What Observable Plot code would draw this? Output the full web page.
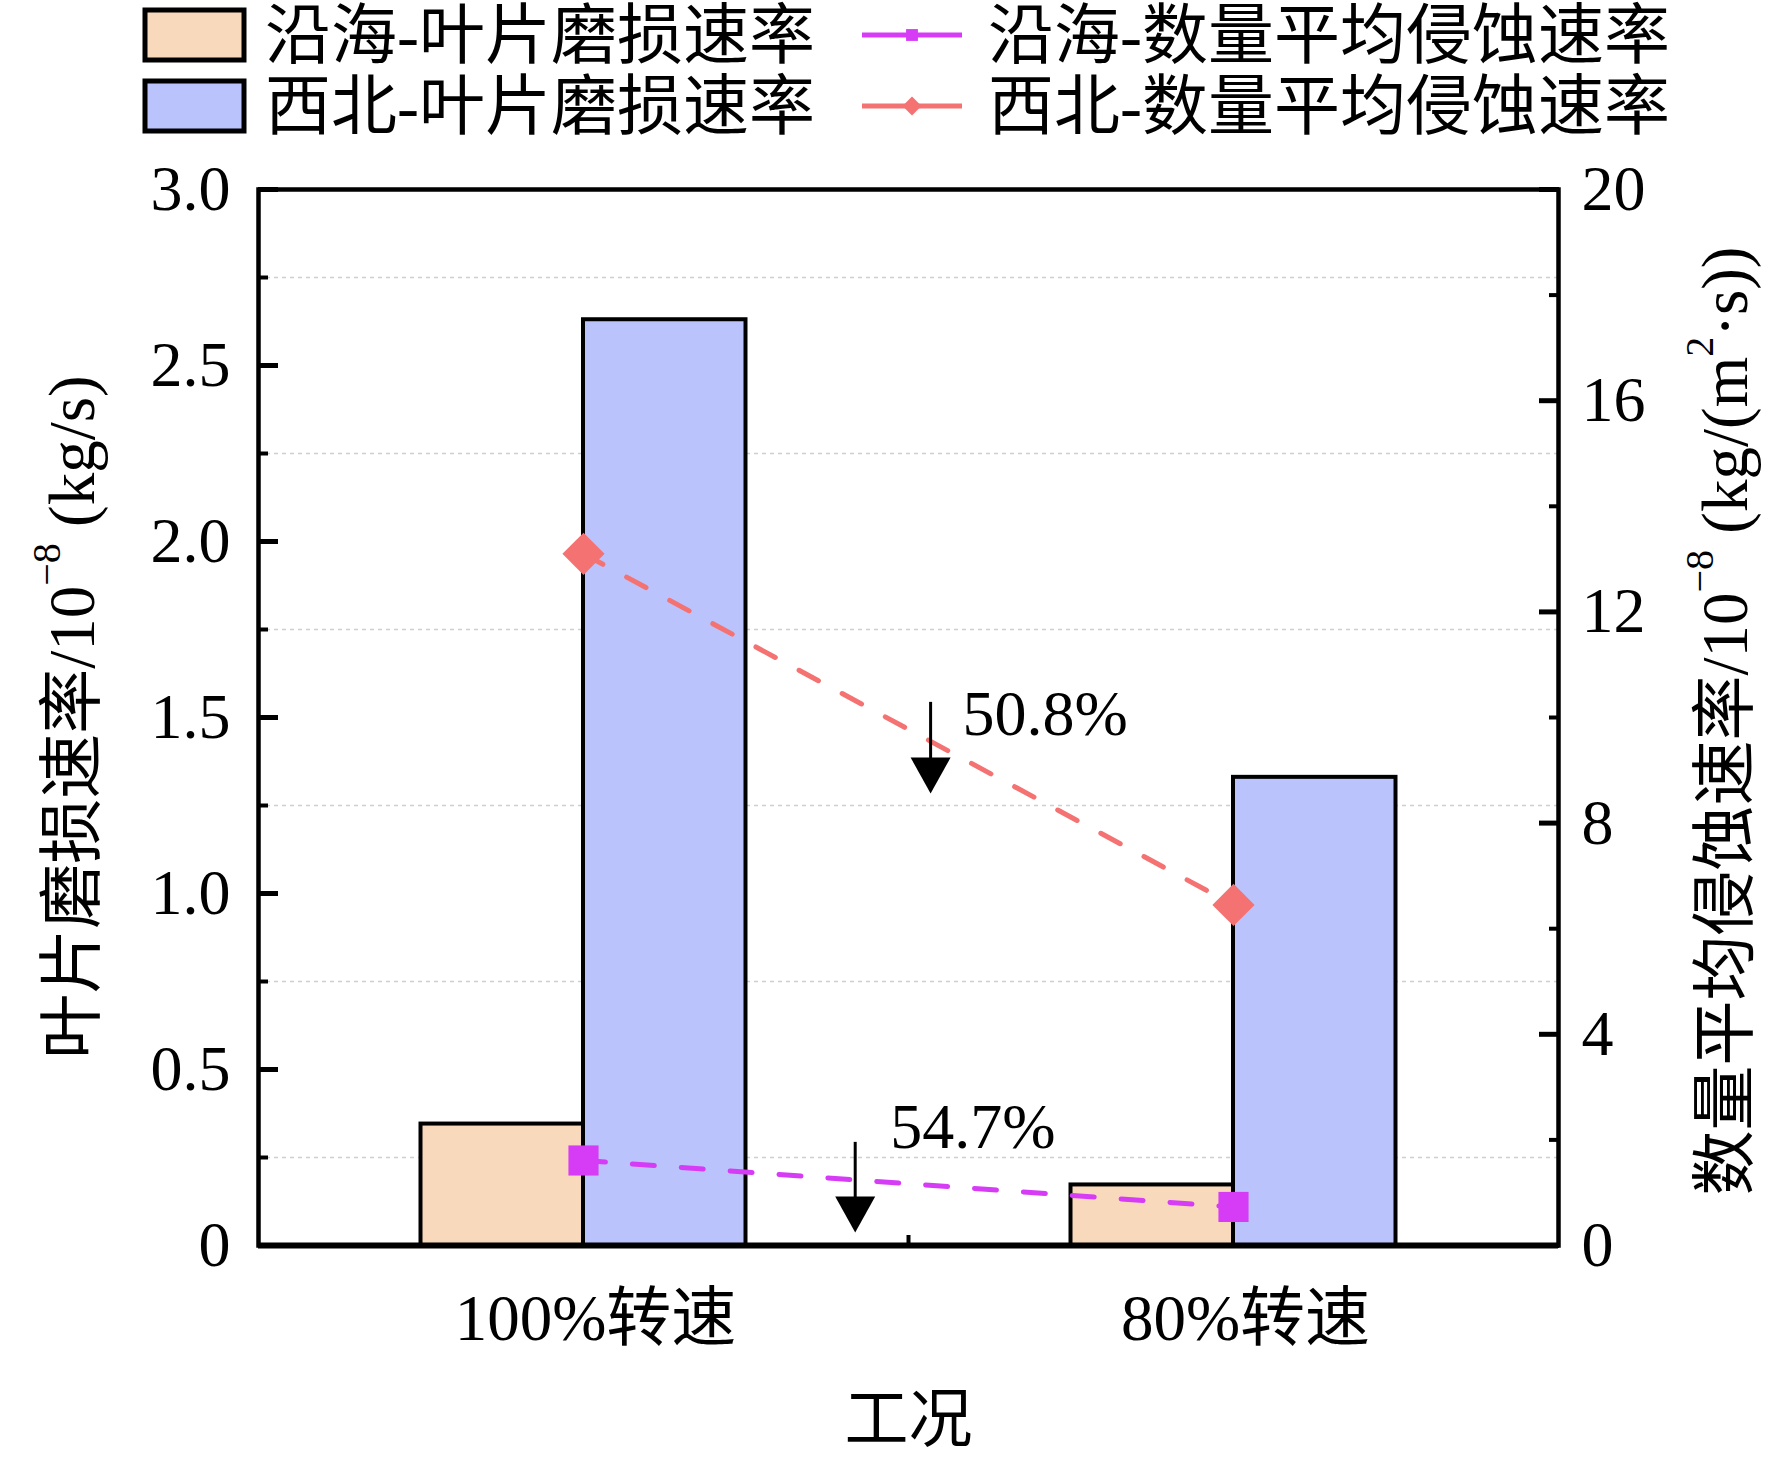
<!DOCTYPE html>
<html><head><meta charset="utf-8">
<script src="https://cdn.jsdelivr.net/npm/d3@7"></script>
<script src="https://cdn.jsdelivr.net/npm/@observablehq/plot@0.6"></script>
<style>
body{margin:0;background:#fff;}
</style></head><body><div id="chart"></div>
<script>
// ---- data ----
const categories = ["100%转速", "80%转速"];
const wearCoastal = [0.345, 0.172];      // 沿海-叶片磨损速率 (left axis)
const wearNorthwest = [2.63, 1.33];      // 西北-叶片磨损速率 (left axis)
const erosionCoastal = [1.61, 0.73];     // 沿海-数量平均侵蚀速率 (right axis)
const erosionNorthwest = [13.1, 6.45];   // 西北-数量平均侵蚀速率 (right axis)
const leftMajorTicks = [0, 0.5, 1.0, 1.5, 2.0, 2.5, 3.0];
const leftMinorTicks = [0.25, 0.75, 1.25, 1.75, 2.25, 2.75];
const rightMajorTicks = [0, 4, 8, 12, 16, 20];
const rightMinorTicks = [2, 6, 10, 14, 18];
const legendLabels = ["沿海-叶片磨损速率", "西北-叶片磨损速率", "沿海-数量平均侵蚀速率", "西北-数量平均侵蚀速率"];
// annotation anchors: x in category index units, y in left-axis units
const arrowX = [0.534, 0.418];
const arrowTop = [1.543, 0.293];
const arrowTip = [1.284, 0.037];
const noteX = [0.583, 0.472];
const noteY = [1.509, 0.335];

// ---- styles ----
const cCoastalBar = "#F9D9BB";
const cNorthwestBar = "#BAC3FB";
const cCoastalLine = "#D63CF5";
const cNorthwestLine = "#F57272";
const FONT = "'Liberation Serif','Noto Sans CJK SC',serif";

const leftMax = 3, rightMax = 20;
const toLeft = v => v * leftMax / rightMax;

const coastalBars = categories.map((c, i) => ({i, x1: i - 0.25, x2: i, v: wearCoastal[i]}));
const northwestBars = categories.map((c, i) => ({i, x1: i, x2: i + 0.25, v: wearNorthwest[i]}));
const coastalPts = categories.map((c, i) => ({i, y: toLeft(erosionCoastal[i])}));
const northwestPts = categories.map((c, i) => ({i, y: toLeft(erosionNorthwest[i])}));
const pct = (a, b) => ((1 - b / a) * 100).toFixed(1) + "%";
const notes = [
  {x: noteX[0], y: noteY[0], t: pct(erosionNorthwest[0], erosionNorthwest[1])},
  {x: noteX[1], y: noteY[1], t: pct(erosionCoastal[0], erosionCoastal[1])}
];
const arrows = arrowX.map((x, k) => ({x, top: arrowTop[k], tip: arrowTip[k]}));

const downTriangle = {
  draw(ctx, size) {
    const r = Math.sqrt(size / Math.PI);
    ctx.moveTo(-r, -1.8 * r);
    ctx.lineTo(r, -1.8 * r);
    ctx.lineTo(0, 0);
    ctx.closePath();
  }
};

const chart = Plot.plot({
  width: 1772,
  height: 1463,
  marginLeft: 258,
  marginRight: 214,
  marginTop: 189,
  marginBottom: 218,
  style: {fontFamily: FONT, fontSize: "64px", color: "black", background: "white"},
  x: {type: "linear", domain: [-0.5, 1.5], axis: null},
  y: {domain: [0, leftMax], axis: null},
  marks: [
    Plot.ruleY(leftMinorTicks, {stroke: "#cfcfcf", strokeWidth: 1.5, strokeDasharray: "4,4"}),
    Plot.rectY(coastalBars, {x1: "x1", x2: "x2", y1: 0, y2: "v", fill: cCoastalBar, stroke: "black", strokeWidth: 4}),
    Plot.rectY(northwestBars, {x1: "x1", x2: "x2", y1: 0, y2: "v", fill: cNorthwestBar, stroke: "black", strokeWidth: 4}),
    Plot.frame({stroke: "black", strokeWidth: 4.5}),
    Plot.ruleY([0], {stroke: "black", strokeWidth: 6}),
    Plot.line(northwestPts, {x: "i", y: "y", stroke: cNorthwestLine, strokeWidth: 5, strokeDasharray: "22,27"}),
    Plot.line(coastalPts, {x: "i", y: "y", stroke: cCoastalLine, strokeWidth: 5, strokeDasharray: "22,27"}),
    Plot.dot(northwestPts, {x: "i", y: "y", symbol: "diamond2", r: 19, fill: cNorthwestLine, stroke: "none"}),
    Plot.dot(coastalPts, {x: "i", y: "y", symbol: "square", r: 17, fill: cCoastalLine, stroke: "none"}),
    Plot.ruleX(arrows, {x: "x", y1: "top", y2: "tip", stroke: "black", strokeWidth: 3, insetBottom: 20}),
    Plot.dot(arrows, {x: "x", y: "tip", symbol: downTriangle, r: 20, fill: "black", stroke: "none"}),
    Plot.text(notes, {x: "x", y: "y", text: "t", textAnchor: "start", lineAnchor: "middle", fontSize: 64, fontFamily: FONT}),
    // left axis
    Plot.axisY(leftMajorTicks, {anchor: "left", tickSize: 20, dx: 20, fill: "none", strokeWidth: 5, label: null}),
    Plot.axisY(leftMinorTicks, {anchor: "left", tickSize: 10, dx: 10, fill: "none", strokeWidth: 4, label: null}),
    Plot.axisY(leftMajorTicks, {anchor: "left", tickSize: 0, tickPadding: 28, tickFormat: d => d === 0 ? "0" : d.toFixed(1), label: null, fontSize: 64, fontFamily: FONT}),
    // right axis
    Plot.axisY(rightMajorTicks.map(toLeft), {anchor: "right", tickSize: 20, dx: -20, fill: "none", strokeWidth: 5, label: null}),
    Plot.axisY(rightMinorTicks.map(toLeft), {anchor: "right", tickSize: 10, dx: -10, fill: "none", strokeWidth: 4, label: null}),
    Plot.axisY(rightMajorTicks.map(toLeft), {anchor: "right", tickSize: 0, tickPadding: 23, tickFormat: d => String(Math.round(d * rightMax / leftMax)), label: null, fontSize: 64, fontFamily: FONT}),
    // bottom axis
    Plot.axisX([0.5], {anchor: "bottom", tickSize: 10, dy: -10, fill: "none", strokeWidth: 4, label: null}),
    Plot.axisX(categories.map((c, i) => i), {anchor: "bottom", tickSize: 0, tickPadding: 48, dx: 12, tickFormat: i => categories[i], label: null, fontSize: 65, fontFamily: FONT}),
    Plot.text(["工况"], {frameAnchor: "bottom", dy: 175, lineAnchor: "middle", text: d => d, fontSize: 64, fontFamily: FONT})
  ]
});

document.getElementById("chart").appendChild(chart);

// ---- axis titles & legend (text/swatches in the SVG margins) ----
const svg = d3.select(chart);

function title(x, y, parts) {
  const t = svg.append("text")
    .attr("transform", `translate(${x},${y}) rotate(-90)`)
    .attr("text-anchor", "middle")
    .attr("dominant-baseline", "central")
    .attr("font-family", FONT)
    .attr("font-size", 65)
    .attr("fill", "black");
  let prevSup = false;
  parts.forEach(([s, sup]) => {
    const sp = t.append("tspan").text(s);
    if (sup) sp.attr("font-size", 40).attr("dy", -26);
    else if (prevSup) sp.attr("dy", 26);
    prevSup = !!sup;
  });
}
title(72, 717, [["叶片磨损速率/10"], ["−8", true], [" (kg/s)"]]);
title(1725, 721, [["数量平均侵蚀速率/10"], ["−8", true], [" (kg/(m"], ["2", true], ["·s))"]]);

const lg = svg.append("g").attr("font-family", FONT).attr("font-size", 66).attr("text-anchor", "start");
const rowY = [35, 106];
const barFills = [cCoastalBar, cNorthwestBar];
rowY.forEach((y, k) => {
  lg.append("rect").attr("x", 145).attr("y", y - 25).attr("width", 99).attr("height", 50)
    .attr("fill", barFills[k]).attr("stroke", "black").attr("stroke-width", 5);
  lg.append("text").attr("x", 265).attr("y", y).attr("text-anchor", "start").attr("dominant-baseline", "central").text(legendLabels[k]);
});
const lineCols = [cCoastalLine, cNorthwestLine];
rowY.forEach((y, k) => {
  lg.append("line").attr("x1", 862).attr("x2", 962).attr("y1", y).attr("y2", y)
    .attr("stroke", lineCols[k]).attr("stroke-width", 5);
  const sym = k === 0 ? d3.symbol(d3.symbolSquare, 140) : d3.symbol(d3.symbolDiamond2, 230);
  lg.append("path").attr("d", sym()).attr("transform", `translate(912,${y})`).attr("fill", lineCols[k]);
  lg.append("text").attr("x", 988).attr("y", y).attr("text-anchor", "start").attr("dominant-baseline", "central").text(legendLabels[k + 2]);
});
</script>
</body></html>
